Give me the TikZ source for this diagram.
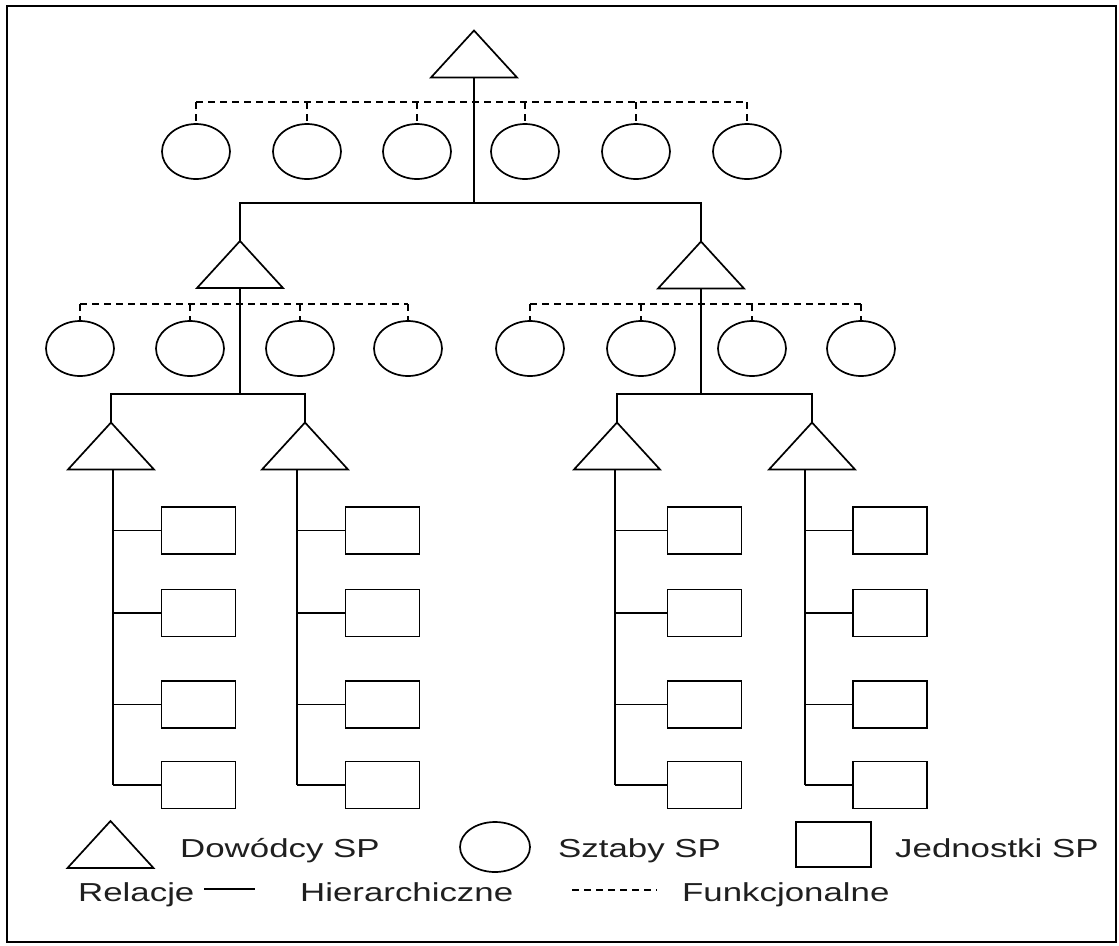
\documentclass[tikz,border=0pt]{standalone}
\usepackage{fontspec}
\usetikzlibrary{shapes.geometric}
\newfontfamily\legendfont[FakeStretch=1.34]{Liberation Sans}

\tikzset{
  hier/.style={line width=1.5pt, draw=black},
  func/.style={line width=1.5pt, draw=black, dash pattern=on 7pt off 5pt},
  funcsmall/.style={line width=1.2pt, draw=black, dash pattern=on 7pt off 5pt},
  sztab/.style={ellipse, draw=black, line width=1.7pt, inner sep=0pt,
    minimum width=68pt, minimum height=55pt},
  jednostka/.style={rectangle, draw=black, line width=1.5pt, inner sep=0pt,
    minimum width=74pt, minimum height=47pt},
  legendtext/.style={anchor=base west, inner sep=0pt, text=black!88,
    font=\legendfont\fontsize{26}{30}\selectfont},
  % commander triangle: apex and base centre are exposed as coordinates
  dowodca/.pic={
    \draw[line width=1.7pt, line join=miter] (0,-23.5) -- (43,23.5) -- (-43,23.5) -- cycle;
    \coordinate (-apex) at (0,-23.5);
    \coordinate (-base) at (0,23.5);
  }
}

\begin{document}
\begin{tikzpicture}[x=1pt, y=-1pt]
\useasboundingbox (0,0) rectangle (1119,945);
\draw[line width=1.8pt] (7,6) rectangle (1116,942);

% ---------- top level ----------
\pic (t0) at (474,54) {dowodca};
\foreach \n/\x in {1/196, 2/307, 3/417, 4/525, 5/636, 6/747}
  \node[sztab] (a\n) at (\x,151.5) {};
\coordinate (d0) at (0,102);
\draw[func] (a1.north |- d0) -- (a6.north |- d0);
\foreach \n in {1,...,6}
  \draw[func] (a\n.north |- d0) -- (a\n.north);

% ---------- second level ----------
\pic (t1) at (240,264.5) {dowodca};
\pic (t2) at (701,265) {dowodca};
\coordinate (h0) at (474,203);
\draw[hier] (t0-base) -- (h0);
\draw[hier] (t1-apex) |- (h0) -| (t2-apex);

\foreach \n/\x in {1/80, 2/190, 3/300, 4/408}
  \node[sztab] (b\n) at (\x,348.5) {};
\foreach \n/\x in {1/530, 2/641, 3/752, 4/861}
  \node[sztab] (c\n) at (\x,348.5) {};
\coordinate (d1) at (0,304);
\draw[func] (b1.north |- d1) -- (b4.north |- d1);
\draw[func] (c1.north |- d1) -- (c4.north |- d1);
\foreach \n in {1,...,4} {
  \draw[func] (b\n.north |- d1) -- (b\n.north);
  \draw[func] (c\n.north |- d1) -- (c\n.north);
}

% ---------- third level ----------
\pic (t3) at (111,446) {dowodca};
\pic (t4) at (305,446) {dowodca};
\pic (t5) at (617,446) {dowodca};
\pic (t6) at (812,446) {dowodca};
\coordinate (h1) at (240,394);
\coordinate (h2) at (701,394);
\draw[hier] (t1-base) -- (h1);
\draw[hier] (t3-apex) |- (h1) -| (t4-apex);
\draw[hier] (t2-base) -- (h2);
\draw[hier] (t5-apex) |- (h2) -| (t6-apex);

% ---------- units ----------
\foreach \c/\cx/\kx in {3/198.5/113, 4/382.5/297, 5/704.5/615, 6/890/805} {
  \foreach \r/\ry in {1/530.5, 2/613, 3/704.5, 4/785}
    \node[jednostka] (r\c\r) at (\cx,\ry) {};
  \coordinate (k\c) at (\kx,0);
  \draw[hier] (k\c |- t\c-base) -- (k\c |- r\c4.west);
  \foreach \r in {1,...,4}
    \draw[hier] (k\c |- r\c\r.west) -- (r\c\r.west);
}

% ---------- legend ----------
\pic (lt) at (110.5,844.5) {dowodca};
\node[legendtext] (ltx) at (180,857) {Dowódcy SP};
\node[sztab, minimum width=70pt, minimum height=50pt] (le) at (495,847) {};
\node[legendtext] (lex) at (558,857) {Sztaby SP};
\node[jednostka, minimum width=75pt, minimum height=45pt] (lr) at (833.5,844.5) {};
\node[legendtext] (lrx) at (895,857) {Jednostki SP};

\node[legendtext] (rel) at (78,901) {Relacje};
\coordinate (hs) at (204,889);
\coordinate (he) at (255,889);
\draw[line width=1.2pt] (hs) -- (he);
\node[legendtext] (hie) at (300,901) {Hierarchiczne};
\coordinate (fs) at (572,890);
\coordinate (fe) at (657,890);
\draw[funcsmall] (fs) -- (fe);
\node[legendtext] (fun) at (682,901) {Funkcjonalne};
\end{tikzpicture}
\end{document}
